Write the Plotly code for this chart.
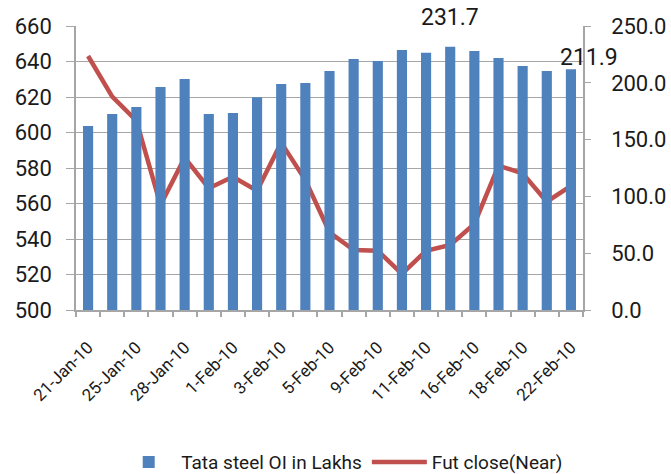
import plotly.graph_objects as go

dates = ["21-Jan-10", "22-Jan-10", "25-Jan-10", "27-Jan-10", "28-Jan-10", "29-Jan-10",
         "1-Feb-10", "2-Feb-10", "3-Feb-10", "4-Feb-10", "5-Feb-10", "8-Feb-10",
         "9-Feb-10", "10-Feb-10", "11-Feb-10", "15-Feb-10", "16-Feb-10", "17-Feb-10",
         "18-Feb-10", "19-Feb-10", "22-Feb-10"]
oi_lakhs = [162.0, 172.5, 178.7, 196.3, 203.3, 172.5, 173.4, 187.2, 198.9, 199.8, 210.4,
            221.0, 219.2, 228.9, 226.5, 231.7, 228.0, 221.8, 214.8, 210.4, 211.9]
fut_close = [643.1, 620.2, 606.7, 559.2, 585.8, 568.6, 575.1, 567.2, 594.3, 573.2, 543.8,
             533.8, 533.4, 520.3, 533.4, 536.6, 548.5, 581.3, 577.0, 561.0, 569.9]
label_idx = [15, 20]

idx = list(range(len(dates)))
grid = "#A6A6A6"
FONT = "Roboto"
tickfont = dict(family=FONT, size=22, color="#1a1a1a")

fig = go.Figure()
fig.add_trace(go.Bar(x=idx, y=oi_lakhs, name="Tata steel OI in Lakhs",
                     marker=dict(color="#4F81BD", line=dict(width=0)),
                     width=0.42, yaxis="y2"))
fig.add_trace(go.Scatter(x=idx, y=fut_close, name="Fut close(Near)", mode="lines",
                         line=dict(color="#C0504D", width=4.5), yaxis="y"))

shifts = {15: (0, 14), 20: (18, -4)}
for i in label_idx:
    fig.add_annotation(x=idx[i], y=oi_lakhs[i], yref="y2", text=f"{oi_lakhs[i]:.1f}",
                       showarrow=False, yanchor="bottom", xshift=shifts[i][0], yshift=shifts[i][1],
                       font=dict(family=FONT, size=23, color="#1a1a1a"))

fig.update_layout(
    width=671, height=474,
    margin=dict(l=76, r=88, t=26, b=164, autoexpand=False),
    paper_bgcolor="white", plot_bgcolor="white",
    showlegend=True,
    legend=dict(orientation="h", xref="container", x=0.51, xanchor="center",
                yref="container", y=0.025, yanchor="middle",
                font=dict(family=FONT, size=19, color="#1a1a1a"),
                itemwidth=55, entrywidth=0, traceorder="normal"),
    xaxis=dict(range=[-0.5, len(dates) - 0.5], tickvals=idx[::2], ticktext=dates[::2],
               tickangle=-45, showgrid=False, zeroline=False, automargin=False,
               showline=True, linecolor=grid, linewidth=1.5,
               ticks="", ticklen=0, ticklabelstandoff=19,
               tickfont=dict(family=FONT, size=17, color="#1a1a1a"),
               minor=dict(tick0=-0.5, dtick=1, ticks="outside", ticklen=5, tickcolor=grid, tickwidth=1.5, showgrid=False)),
    yaxis=dict(range=[500, 660], dtick=20, showgrid=True, gridcolor=grid, gridwidth=1.3,
               showline=True, linecolor=grid, linewidth=1.5, zeroline=False, automargin=False,
               ticks="outside", ticklen=8, tickcolor=grid, tickfont=tickfont, ticklabelstandoff=10),
    yaxis2=dict(range=[0, 250], dtick=50, tickformat=".1f", overlaying="y", side="right",
                showgrid=False, showline=True, linecolor=grid, linewidth=1.5, zeroline=False,
                automargin=False, ticklabelstandoff=16,
                ticks="outside", ticklen=6, tickcolor=grid, tickfont=tickfont),
)

fig.write_html("out.html", config={"displayModeBar": False})
with open("out.html", encoding="utf-8") as f:
    html = f.read()
html = html.replace("<head>", "<head><style>html,body{margin:0;padding:0;overflow:hidden;}</style>", 1)
with open("out.html", "w", encoding="utf-8") as f:
    f.write(html)
